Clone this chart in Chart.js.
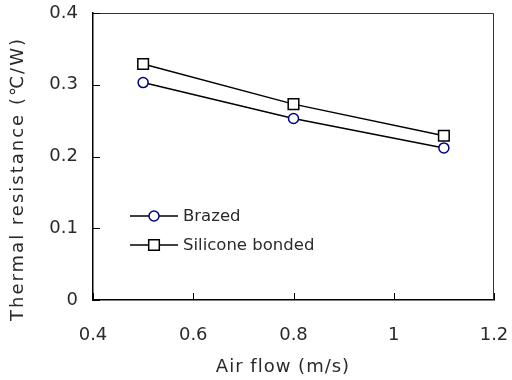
<!DOCTYPE html>
<html>
<head>
<meta charset="utf-8">
<script src="https://cdn.jsdelivr.net/npm/chart.js@4.4.0/dist/chart.umd.min.js"></script>
<style>
  html, body { margin: 0; padding: 0; background: #fff; }
  #wrap { width: 512px; height: 380px; position: relative; }
</style>
</head>
<body>
<div id="wrap"><canvas id="mycanvas"></canvas></div>
<script>
const airFlow = [0.5, 0.8, 1.1];
const brazed = [0.303, 0.253, 0.212];
const silicone = [0.329, 0.273, 0.229];
const xTicks = [0.4, 0.6, 0.8, 1, 1.2];
const yTicks = [0, 0.1, 0.2, 0.3, 0.4];
const seriesLabels = ['Brazed', 'Silicone bonded'];
const xTitle = 'Air flow (m/s)';
const yTitle = 'Thermal resistance (\u2103/W)';

const FONT = 'DejaVu Sans';
const TEXT = '#2a2a2a';

// inward ticks, top/right frame, axis titles and legend inside the plot
const framePlugin = {
  id: 'frame',
  afterDraw(chart) {
    const ctx = chart.ctx;
    const a = chart.chartArea;
    const xs = chart.scales.x, ys = chart.scales.y;
    ctx.save();
    ctx.strokeStyle = '#333';
    ctx.lineWidth = 1;
    ctx.beginPath();
    ctx.moveTo(a.left, a.top + 0.5);
    ctx.lineTo(a.right - 0.5, a.top + 0.5);
    ctx.lineTo(a.right - 0.5, a.bottom);
    ctx.stroke();

    ctx.strokeStyle = '#000';
    ctx.beginPath();
    xTicks.forEach(v => {
      const px = Math.round(xs.getPixelForValue(v)) + 0.5;
      ctx.moveTo(px, a.bottom);
      ctx.lineTo(px, a.bottom - 7);
    });
    yTicks.forEach(v => {
      const py = Math.round(ys.getPixelForValue(v)) + 0.5;
      ctx.moveTo(a.left, py);
      ctx.lineTo(a.left + 7, py);
    });
    ctx.stroke();

    ctx.fillStyle = TEXT;
    ctx.font = '18px "' + FONT + '"';
    ctx.textAlign = 'center';
    ctx.textBaseline = 'middle';
    ctx.letterSpacing = '1px';
    ctx.fillText(xTitle, 283, 367);

    ctx.letterSpacing = '2px';
    ctx.translate(18, 179);
    ctx.rotate(-Math.PI / 2);
    ctx.fillText(yTitle, 0, 0);
    ctx.restore();

    // legend
    ctx.save();
    chart.data.datasets.forEach((ds, i) => {
      const y = 216 + i * 29;
      const x0 = 130, x1 = 178, xm = 154;
      ctx.strokeStyle = '#000';
      ctx.lineWidth = 1.5;
      ctx.beginPath();
      ctx.moveTo(x0, y);
      ctx.lineTo(x1, y);
      ctx.stroke();
      ctx.fillStyle = '#fff';
      ctx.strokeStyle = ds.pointBorderColor;
      ctx.lineWidth = ds.pointBorderWidth;
      Chart.helpers.drawPoint(ctx, {
        pointStyle: ds.pointStyle,
        radius: ds.pointRadius,
        rotation: 0,
        borderWidth: ds.pointBorderWidth
      }, xm, y);
      ctx.fillStyle = TEXT;
      ctx.font = '16.5px "' + FONT + '"';
      ctx.textAlign = 'left';
      ctx.textBaseline = 'middle';
      ctx.fillText(ds.label, 183, y + 1);
    });
    ctx.restore();
  }
};

new Chart(document.getElementById('mycanvas'), {
  type: 'line',
  data: {
    datasets: [
      {
        label: seriesLabels[0],
        data: airFlow.map((x, i) => ({ x: x, y: brazed[i] })),
        borderColor: '#000',
        borderWidth: 1.5,
        pointStyle: 'circle',
        pointRadius: 5,
        pointBorderWidth: 1.5,
        pointBorderColor: '#000080',
        pointBackgroundColor: '#fff'
      },
      {
        label: seriesLabels[1],
        data: airFlow.map((x, i) => ({ x: x, y: silicone[i] })),
        borderColor: '#000',
        borderWidth: 1.5,
        pointStyle: 'rect',
        pointRadius: 7.5,
        pointBorderWidth: 1.5,
        pointBorderColor: '#000',
        pointBackgroundColor: '#fff'
      }
    ]
  },
  options: {
    responsive: true,
    maintainAspectRatio: false,
    animation: false,
    layout: { padding: { top: 13, right: 18, left: 0, bottom: 0 } },
    plugins: {
      legend: { display: false },
      tooltip: { enabled: false }
    },
    scales: {
      x: {
        type: 'linear',
        min: 0.4,
        max: 1.2,
        afterBuildTicks: s => { s.ticks = xTicks.map(v => ({ value: v })); },
        afterFit: s => { s.height = 80; s.paddingLeft = 0; s.paddingRight = 0; },
        grid: { drawOnChartArea: false, drawTicks: false },
        border: { display: true, color: '#000', width: 1.5 },
        ticks: {
          padding: 25,
          color: TEXT,
          font: { family: FONT, size: 18 },
          maxRotation: 0,
          callback: v => String(Number(v.toFixed(2)))
        }
      },
      y: {
        type: 'linear',
        min: 0,
        max: 0.4,
        afterBuildTicks: s => { s.ticks = yTicks.map(v => ({ value: v })); },
        afterFit: s => { s.width = 93; s.paddingTop = 0; s.paddingBottom = 0; },
        grid: { drawOnChartArea: false, drawTicks: false },
        border: { display: true, color: '#000', width: 1.5 },
        ticks: {
          padding: 15,
          color: TEXT,
          font: { family: FONT, size: 18 },
          callback: v => String(Number(v.toFixed(2)))
        }
      }
    }
  },
  plugins: [framePlugin]
});
</script>
</body>
</html>
